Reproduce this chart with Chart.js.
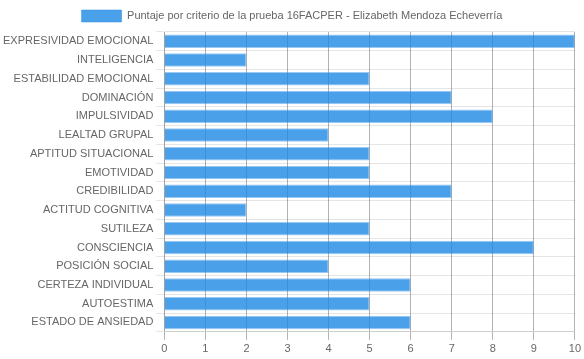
<!DOCTYPE html>
<html><head><meta charset="utf-8">
<script src="https://cdn.jsdelivr.net/npm/chart.js@4/dist/chart.umd.min.js"></script>
<style>html,body{margin:0;padding:0;background:#fff}#wrap{width:584px;height:359px}</style>
</head><body><div id="wrap"><canvas id="c" width="584" height="359"></canvas></div>
<script>
const categories = ["EXPRESIVIDAD EMOCIONAL","INTELIGENCIA","ESTABILIDAD EMOCIONAL","DOMINACIÓN","IMPULSIVIDAD","LEALTAD GRUPAL","APTITUD SITUACIONAL","EMOTIVIDAD","CREDIBILIDAD","ACTITUD COGNITIVA","SUTILEZA","CONSCIENCIA","POSICIÓN SOCIAL","CERTEZA INDIVIDUAL","AUTOESTIMA","ESTADO DE ANSIEDAD"];
const scores = [10,2,5,7,8,4,5,5,7,2,5,9,4,6,5,6];
const seriesLabel = "Puntaje por criterio de la prueba 16FACPER - Elizabeth Mendoza Echeverría";
Chart.defaults.font.family = "Arial, 'Liberation Sans', sans-serif";
Chart.defaults.font.size = 11;
Chart.defaults.color = "#666";
new Chart(document.getElementById('c'), {
  type: 'bar',
  data: { labels: categories, datasets: [{ label: seriesLabel, data: scores,
    backgroundColor: 'rgba(30,136,229,0.8)', borderColor: 'rgba(30,136,229,0.45)', borderWidth: 1 }] },
  options: {
    indexAxis: 'y', responsive: false, animation: false,
    layout: { padding: { left: 0, right: 0, top: 0, bottom: 0 } },
    plugins: { legend: { labels: { boxWidth: 40, boxHeight: 12, font: { size: 11 } } }, tooltip: { enabled: false } },
    scales: {
      x: { min: 0, max: 10, ticks: { stepSize: 1 }, grid: { color: 'rgba(0,0,0,0.3)' } },
      y: { ticks: { padding: 3 }, grid: { color: 'rgba(0,0,0,0.1)', offset: true } }
    }
  }
});
</script></body></html>
